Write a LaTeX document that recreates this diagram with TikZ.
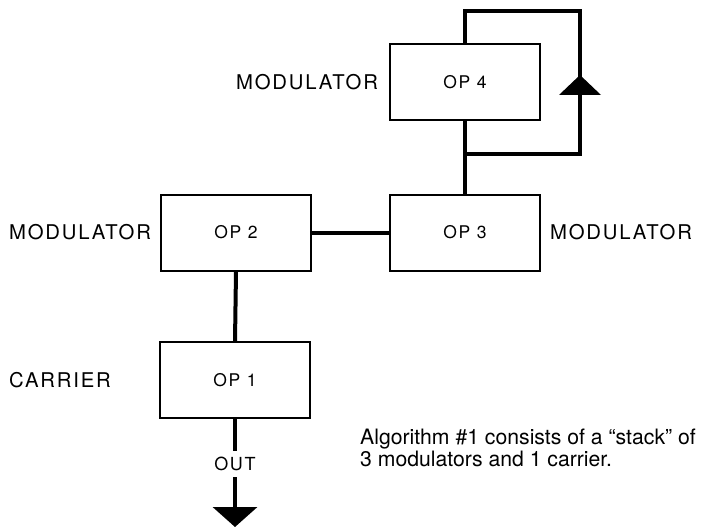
\documentclass[tikz,border=0pt]{standalone}
\usepackage{fontspec}
\setmainfont{TeX Gyre Heros}
\newfontfamily\labfont[LetterSpace=9]{TeX Gyre Heros}
\usetikzlibrary{arrows.meta}
\begin{document}
\begin{tikzpicture}[x=1pt,y=-1pt,
  opbox/.style={draw,line width=2pt,minimum width=150pt,minimum height=76pt,inner sep=0pt,font=\labfont\fontsize{17.5}{20}\selectfont},
  conn/.style={line width=4pt},
  lab/.style={font=\labfont\fontsize{20.3}{24}\selectfont,inner sep=0pt},
  captext/.style={font=\fontsize{21.2}{24}\selectfont,inner sep=0pt,anchor=base west}]
\useasboundingbox (0,0) rectangle (710,527);
\node[opbox] (op4) at (465,82) {OP 4};
\node[opbox] (op3) at (465,232.5) {OP 3};
\node[opbox] (op2) at (236,232.5) {OP 2};
\node[opbox] (op1) at (235,380) {OP 1};
% connectors
\draw[conn] (op2.east) -- (op3.west);
\draw[conn] (op2.south) -- (op1.north);
\draw[conn] (op4.south) -- (op3.north);
\coordinate (fbL) at (465,154);
\coordinate (fbR) at (580,154);
\coordinate (fbTR) at (580,11);
\coordinate (fbTL) at (465,11);
\draw[conn,line join=miter] (fbL) -- (fbR) -- (fbTR) -- (fbTL) -- (op4.north);
\coordinate (fbtip) at (580,75);
\fill (fbtip) -- (559,95) -- (601,95) -- cycle;
\coordinate (outend) at (235,527);
\draw[conn,-{Triangle[width=44pt,length=20pt]}] (op1.south) -- (outend);
\node[fill=white,inner xsep=4pt,inner ysep=6pt,font=\labfont\fontsize{18}{20}\selectfont] (out) at (235,464) {OUT};
% labels
\node[lab] (l4) at (307,82.5) {MODULATOR};
\node[lab] (l2) at (80,232) {MODULATOR};
\node[lab] (l3) at (621,232) {MODULATOR};
\node[lab] (l1) at (60,380) {CARRIER};
\node[captext] (c1) at (360,444) {Algorithm \#1 consists of a “stack” of};
\node[captext] (c2) at (360,466) {3 modulators and 1 carrier.};
\end{tikzpicture}
\end{document}
